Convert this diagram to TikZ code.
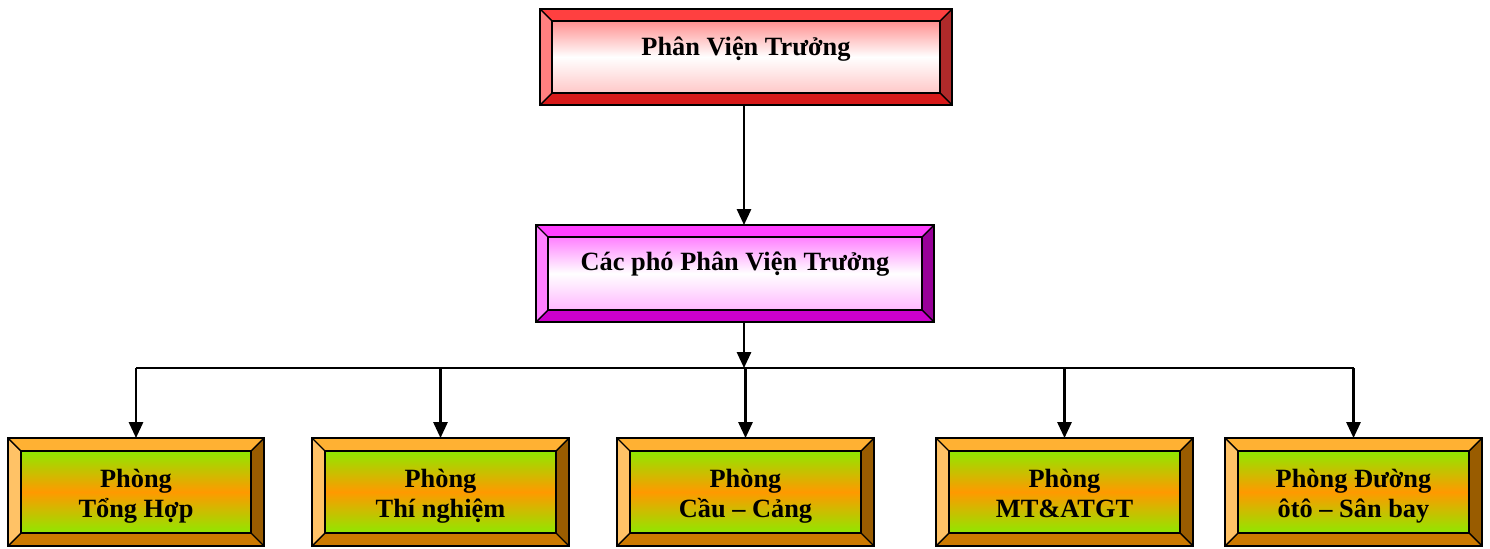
\documentclass[tikz,border=0pt]{standalone}
\usepackage{fontspec}
\setmainfont{Liberation Serif}
\usetikzlibrary{arrows.meta}
% red scheme
\definecolor{redT}{HTML}{FF4040}
\definecolor{redL}{HTML}{FF8080}
\definecolor{redR}{HTML}{B02A2A}
\definecolor{redB}{HTML}{D81A1A}
\definecolor{redIT}{HTML}{FF9090}
\definecolor{redIM}{HTML}{FFFFFF}
\definecolor{redIB}{HTML}{FFC8C8}
% magenta scheme
\definecolor{magT}{HTML}{FF40FF}
\definecolor{magL}{HTML}{FF80FF}
\definecolor{magR}{HTML}{990099}
\definecolor{magB}{HTML}{CC00CC}
\definecolor{magIT}{HTML}{FF80FF}
\definecolor{magIM}{HTML}{FFFFFF}
\definecolor{magIB}{HTML}{FFB8FF}
% orange scheme
\definecolor{orgT}{HTML}{FFB133}
\definecolor{orgL}{HTML}{FFC266}
\definecolor{orgR}{HTML}{995C00}
\definecolor{orgB}{HTML}{CC7A00}
\definecolor{orgIT}{HTML}{8FE800}
\definecolor{orgIM}{HTML}{FF9900}
\definecolor{orgIB}{HTML}{8FE800}
\newcommand\ls{\rule[-5pt]{0pt}{17pt}}
\newcommand\bevbox[7]{%
  \fill[#7T] (#2,#3) -- (#4,#3) -- ({#4-#6},{#3+#6}) -- ({#2+#6},{#3+#6}) -- cycle;
  \fill[#7L] (#2,#3) -- ({#2+#6},{#3+#6}) -- ({#2+#6},{#5-#6}) -- (#2,#5) -- cycle;
  \fill[#7R] (#4,#3) -- ({#4-#6},{#3+#6}) -- ({#4-#6},{#5-#6}) -- (#4,#5) -- cycle;
  \fill[#7B] (#2,#5) -- ({#2+#6},{#5-#6}) -- ({#4-#6},{#5-#6}) -- (#4,#5) -- cycle;
  \shade[top color=#7IT, bottom color=#7IB, middle color=#7IM]
    ({#2+#6},{#3+#6}) rectangle ({#4-#6},{#5-#6});
  \draw[boxline] ({#2+#6},{#3+#6}) rectangle ({#4-#6},{#5-#6});
  \draw[boxline] (#2,#3) -- ({#2+#6},{#3+#6}) (#4,#3) -- ({#4-#6},{#3+#6})
                 (#2,#5) -- ({#2+#6},{#5-#6}) (#4,#5) -- ({#4-#6},{#5-#6});
  \node[boxframe, minimum width={(#4-#2)*0.02cm}, minimum height={(#5-#3)*0.02cm}]
    (#1) at ({(#2+#4)/2},{(#3+#5)/2}) {};
}
\tikzset{
  boxline/.style={draw=black, line width=0.8pt},
  boxframe/.style={draw=black, line width=1.0pt, rectangle, inner sep=0pt, outer sep=0pt},
  lbl/.style={font=\fontsize{15}{17}\selectfont\bfseries, text=black, align=center, inner sep=0pt},
  conn/.style={draw=black, line width=1.3pt},
  arr/.style={conn, -{Triangle[length=9pt,width=8pt]}},
}
\begin{document}
\begin{tikzpicture}[x=0.02cm, y=-0.02cm]
\useasboundingbox (0,0) rectangle (1490,548);
\bevbox{top}{540}{9}{952}{105}{12}{red}
\bevbox{mid}{536}{225}{934}{322}{12}{mag}
\bevbox{b1}{8}{438}{264}{546}{13}{org}
\bevbox{b2}{312}{438}{569}{546}{13}{org}
\bevbox{b3}{617}{438}{874}{546}{13}{org}
\bevbox{b4}{936}{438}{1193}{546}{13}{org}
\bevbox{b5}{1225}{438}{1482}{546}{13}{org}
\node[lbl, anchor=base] (topT) at (746,55) {Phân Viện Trưởng};
\node[lbl, anchor=base] (midT) at (735,270) {Các phó Phân Viện Trưởng};
\node[lbl] (b1T) at (136,496) {Phòng\ls\\Tổng Hợp\ls};
\node[lbl] (b2T) at (440.5,496) {Phòng\ls\\Thí nghiệm\ls};
\node[lbl] (b3T) at (745.5,496) {Phòng\ls\\Cầu – Cảng\ls};
\node[lbl] (b4T) at (1064.5,496) {Phòng\ls\\MT\&ATGT\ls};
\node[lbl] (b5T) at (1353.5,496) {Phòng Đường\ls\\ôtô – Sân bay\ls};
\coordinate (trunk) at (744,0);
\coordinate (bus) at (744,368);
\draw[arr] (top.south -| trunk) -- (mid.north -| trunk);
\draw[arr] (mid.south -| trunk) -- (bus);
\draw[conn] (b1.north |- bus) -- (b5.north |- bus);
\foreach \bx in {b1,b2,b3,b4,b5}{
  \draw[arr] (\bx.north |- bus) -- (\bx.north);
}
\end{tikzpicture}
\end{document}
